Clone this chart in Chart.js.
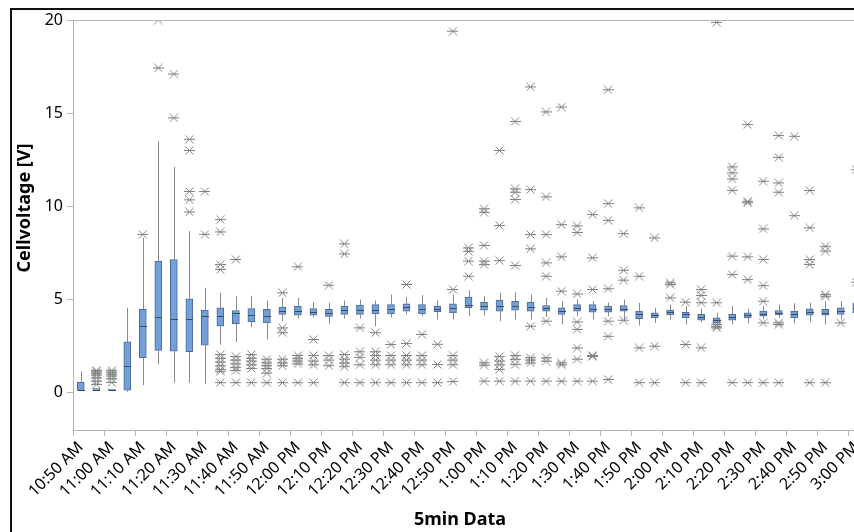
<!DOCTYPE html>
<html>
<head>
<meta charset="utf-8">
<script src="https://cdn.jsdelivr.net/npm/chart.js@4/dist/chart.umd.min.js"></script>
<style>
  html, body { margin: 0; padding: 0; background: #fff; overflow: hidden; }
  #chart { display: block; }
</style>
</head>
<body>
<canvas id="chart" width="880" height="532" style="width:880px;height:532px"></canvas>
<script>
// 5 minute slots, a label is shown every 10 minutes
const categories = ['10:50 AM','10:55 AM','11:00 AM','11:05 AM','11:10 AM','11:15 AM','11:20 AM','11:25 AM','11:30 AM','11:35 AM',
  '11:40 AM','11:45 AM','11:50 AM','11:55 AM','12:00 PM','12:05 PM','12:10 PM','12:15 PM','12:20 PM','12:25 PM',
  '12:30 PM','12:35 PM','12:40 PM','12:45 PM','12:50 PM','12:55 PM','1:00 PM','1:05 PM','1:10 PM','1:15 PM',
  '1:20 PM','1:25 PM','1:30 PM','1:35 PM','1:40 PM','1:45 PM','1:50 PM','1:55 PM','2:00 PM','2:05 PM',
  '2:10 PM','2:15 PM','2:20 PM','2:25 PM','2:30 PM','2:35 PM','2:40 PM','2:45 PM','2:50 PM','2:55 PM','3:00 PM'];

const whiskerLow = [0.08,0.1,0.1,0.05,0.4,1.52,0.54,0.54,0.48,2.59,2.73,3.52,2.86,3.84,3.98,4.04,3.7,3.98,3.98,3.57,
  4.04,4.2,4.1,3.93,3.93,4.11,4.14,3.84,3.93,3.93,4.07,3.66,4.11,3.93,4.11,3.84,3.61,3.75,3.93,3.66,
  3.79,3.72,3.66,3.72,3.93,4.02,3.72,3.79,3.66,3.93,3.93];
const q1 = [0.12,0.13,0.12,0.14,1.88,2.27,2.23,2.2,2.55,3.57,3.7,3.8,3.75,4.2,4.16,4.16,4.1,4.2,4.2,4.23,
  4.23,4.38,4.23,4.35,4.28,4.56,4.43,4.38,4.43,4.38,4.38,4.2,4.38,4.32,4.32,4.38,3.97,4.02,4.18,4.02,
  3.89,3.75,3.89,4.02,4.11,4.18,4.02,4.16,4.16,4.2,4.29];
const median = [0.15,0.17,0.15,1.41,3.57,4.07,3.93,3.98,4.11,4.14,4.29,4.15,4.1,4.4,4.4,4.33,4.3,4.43,4.44,4.45,
  4.5,4.58,4.5,4.5,4.55,4.73,4.68,4.68,4.63,4.6,4.52,4.38,4.52,4.47,4.47,4.47,4.2,4.16,4.32,4.2,
  4.05,3.88,4.05,4.16,4.25,4.3,4.2,4.32,4.3,4.4,4.52];
const q3 = [0.57,0.22,0.18,2.73,4.47,7.06,7.15,5.04,4.43,4.56,4.41,4.52,4.47,4.59,4.65,4.52,4.47,4.65,4.7,4.73,
  4.73,4.77,4.73,4.65,4.77,5.13,4.86,4.97,4.91,4.86,4.68,4.56,4.73,4.73,4.65,4.68,4.38,4.29,4.43,4.32,
  4.2,4.02,4.2,4.29,4.38,4.41,4.38,4.5,4.47,4.56,4.83];
const whiskerHigh = [1.15,0.25,0.2,4.56,8.3,13.49,12.12,8.67,5.63,5.36,5.18,5.2,4.95,5.09,5.09,4.88,4.83,4.95,5.0,4.95,
  5.27,5.13,5.24,4.95,5.27,5.5,5.18,5.36,5.39,5.27,5.09,4.91,5.0,4.91,4.84,5.0,4.83,4.56,4.73,4.65,
  4.5,4.29,4.65,4.5,4.65,4.73,4.8,4.83,4.91,4.91,5.3];
const outliers = [
  [],
  [1.2,1.12,1.05,0.95,0.8,0.62,0.45],
  [1.2,1.1,1.0,0.9,0.75,0.55],
  [],
  [8.5],
  [17.43,20.0],
  [17.1,14.75],
  [13.6,13.0,10.8,10.35,9.7],
  [10.8,8.5],
  [9.29,8.63,6.88,6.61,2.05,1.85,1.65,1.45,1.25,1.15,0.54],
  [7.15,1.95,1.75,1.55,1.35,1.2,0.54],
  [2.05,1.85,1.7,1.5,1.3,0.54],
  [1.8,1.6,1.45,1.3,1.05,0.54],
  [5.36,3.48,3.22,1.8,1.6,1.45,0.54],
  [6.76,2.0,1.85,1.7,1.55,0.54],
  [2.86,2.0,1.7,1.5,0.54],
  [5.77,2.0,1.75,1.45],
  [7.99,7.45,2.05,1.8,1.6,1.4,0.54],
  [3.48,2.2,1.9,1.5,0.54],
  [3.22,2.2,2.0,1.75,1.5,0.54],
  [2.59,2.0,1.75,1.5,0.54],
  [5.81,2.64,2.0,1.75,1.5,0.54],
  [3.13,2.0,1.75,1.5,0.54],
  [2.6,1.52,0.54],
  [19.4,5.54,2.0,1.75,1.5,0.6],
  [7.77,7.59,7.06,6.25],
  [9.87,9.68,7.9,7.06,6.88,1.6,1.48,0.62],
  [13.0,8.97,7.09,1.95,1.7,1.5,1.25,0.62],
  [14.56,10.94,10.76,10.37,6.83,2.0,1.79,1.52,0.62],
  [16.41,10.9,8.49,7.72,3.57,1.88,1.75,1.6,0.62],
  [15.07,10.51,8.49,6.97,6.25,3.84,1.88,1.69,0.62],
  [15.33,9.02,7.29,5.45,1.6,1.5,0.62],
  [8.95,8.6,5.3,3.8,3.4,2.4,1.8,0.62],
  [9.56,7.24,5.54,2.0,1.95,0.62],
  [16.26,10.15,9.25,5.58,3.84,3.03,0.71],
  [8.54,6.57,6.04,3.89],
  [9.92,6.25,2.41,0.54],
  [8.31,2.5,0.54],
  [5.9,5.81,5.09],
  [4.86,2.59,0.54],
  [5.54,5.22,4.83,2.41,0.54],
  [19.87,4.83,3.66,3.55,3.48],
  [12.12,11.8,11.47,10.86,7.33,6.34,0.54],
  [14.39,10.27,10.19,7.29,6.07,0.54],
  [11.35,8.79,7.15,5.75,4.91,3.75,0.54],
  [13.8,12.63,11.26,10.76,3.75,3.66,0.54],
  [13.76,9.5],
  [10.85,8.85,7.15,6.88,0.54],
  [7.86,7.6,5.27,5.18,0.54],
  [3.75],
  [11.97,5.93]
];
const yTicks = [0, 5, 10, 15, 20];
const xTitle = '5min Data';
const yTitle = 'Cellvoltage [V]';

const FONT = "'Segoe UI', 'Noto Sans', sans-serif";
const AXIS_GREY = '#b4b4b4';

// asterisk marker: X with a horizontal bar
const star = document.createElement('canvas');
star.width = 11; star.height = 9;
(function () {
  const c = star.getContext('2d');
  c.strokeStyle = '#808080';
  c.lineWidth = 1;
  c.beginPath();
  c.moveTo(0, 4.5); c.lineTo(11, 4.5);
  c.moveTo(1.5, 0.5); c.lineTo(9.5, 8.5);
  c.moveTo(1.5, 8.5); c.lineTo(9.5, 0.5);
  c.stroke();
})();

const boxData = categories.map((c, i) => [q1[i], q3[i]]);
const outlierPoints = [];
outliers.forEach((list, i) => list.forEach(v => outlierPoints.push({ x: categories[i], y: v })));

const boxExtras = {
  id: 'boxExtras',
  beforeDatasetsDraw(chart) {
    const { ctx, scales: { x, y } } = chart;
    ctx.save();
    ctx.strokeStyle = '#8a8a8a';
    ctx.lineWidth = 1;
    ctx.beginPath();
    categories.forEach((c, i) => {
      const px = Math.round(x.getPixelForValue(i)) + 0.5;
      ctx.moveTo(px, y.getPixelForValue(whiskerHigh[i]));
      ctx.lineTo(px, y.getPixelForValue(q3[i]));
      ctx.moveTo(px, y.getPixelForValue(q1[i]));
      ctx.lineTo(px, y.getPixelForValue(whiskerLow[i]));
    });
    ctx.stroke();
    ctx.restore();
  },
  afterDatasetDraw(chart, args) {
    if (args.index !== 0) return;
    const { ctx, scales: { x, y } } = chart;
    ctx.save();
    ctx.strokeStyle = '#3c4a5c';
    ctx.lineWidth = 1;
    ctx.beginPath();
    categories.forEach((c, i) => {
      const px = Math.round(x.getPixelForValue(i)) + 0.5;
      const py = Math.round(y.getPixelForValue(median[i])) + 0.5;
      ctx.moveTo(px - 3.5, py);
      ctx.lineTo(px + 3.5, py);
    });
    ctx.stroke();
    ctx.restore();
  },
  afterDraw(chart) {
    const { ctx, chartArea } = chart;
    ctx.save();
    // plot area top edge
    ctx.fillStyle = AXIS_GREY;
    ctx.fillRect(chartArea.left, Math.round(chartArea.top), chartArea.right - chartArea.left, 1);
    // outer frame of the figure
    ctx.fillStyle = '#111';
    ctx.fillRect(10, 8, chart.width, 2);
    ctx.fillRect(10, 8, 2, chart.height);
    // axis titles
    ctx.fillStyle = '#000';
    ctx.font = 'bold 18px ' + FONT;
    ctx.textAlign = 'center';
    ctx.textBaseline = 'middle';
    ctx.fillText(xTitle, 460, 520);
    ctx.translate(25, 208);
    ctx.rotate(-Math.PI / 2);
    ctx.fillText(yTitle, 0, 0);
    ctx.restore();
  }
};

new Chart(document.getElementById('chart'), {
  type: 'bar',
  data: {
    labels: categories,
    datasets: [{
      data: boxData,
      backgroundColor: '#72a0da',
      borderColor: '#4d6a92',
      borderWidth: 1,
      borderSkipped: false,
      barThickness: 7
    }, {
      type: 'line',
      data: outlierPoints,
      showLine: false,
      clip: 0,
      pointStyle: star,
      pointRadius: 5,
      pointHoverRadius: 5
    }]
  },
  options: {
    responsive: false,
    devicePixelRatio: 1,
    animation: false,
    layout: { padding: { left: 0, top: 20, right: 16, bottom: 0 } },
    plugins: { legend: { display: false }, tooltip: { enabled: false } },
    scales: {
      x: {
        offset: true,
        grid: {
          drawOnChartArea: false,
          tickLength: 6,
          color: AXIS_GREY,
          tickColor: ctx => (ctx.index % 2 === 0 ? AXIS_GREY : 'rgba(0,0,0,0)')
        },
        border: { color: AXIS_GREY },
        ticks: {
          autoSkip: false,
          minRotation: 45,
          maxRotation: 45,
          padding: 2,
          color: '#000',
          font: { family: FONT, size: 16 },
          callback: function (val, idx) { return idx % 2 === 0 ? this.getLabelForValue(val) : ''; }
        },
        afterFit: s => { s.height = 102; }
      },
      y: {
        min: -2,
        max: 20,
        afterBuildTicks: s => { s.ticks = yTicks.map(v => ({ value: v })); },
        grid: { drawOnChartArea: false, tickLength: 6, color: AXIS_GREY },
        border: { color: AXIS_GREY },
        ticks: { color: '#000', padding: 4, font: { family: FONT, size: 16 } },
        afterFit: s => { s.width = 73; }
      }
    }
  },
  plugins: [boxExtras]
});
</script>
</body>
</html>
